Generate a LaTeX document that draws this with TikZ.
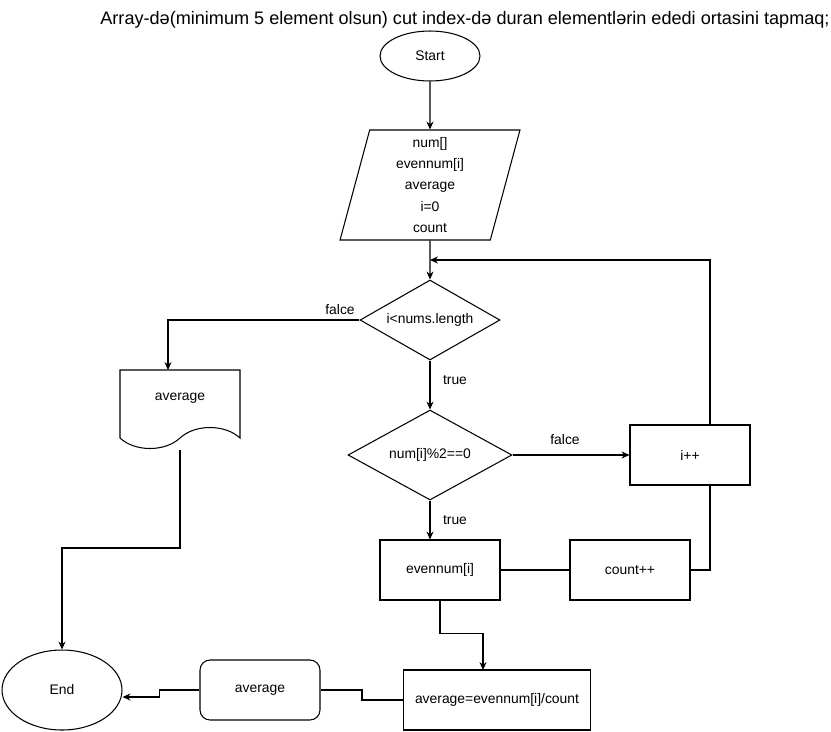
\documentclass[tikz,border=0pt]{standalone}
\usepackage{fontspec}
\setmainfont{Liberation Sans}
\usetikzlibrary{shapes.geometric,arrows.meta}
\tikzset{
	base/.style={draw,line width=0.6pt,font=\fontsize{7.9}{12.2}\selectfont,align=center,inner sep=1pt},
	terminal/.style={base,ellipse},
	io/.style={base,trapezium,trapezium left angle=80,trapezium right angle=100,trapezium stretches=true,minimum width=3.6cm,minimum height=2.2cm},
	decision/.style={base,diamond,inner sep=0pt,aspect=1.8},
	process/.style={base,rectangle,minimum width=2.4cm,minimum height=1.2cm},
	roundbox/.style={process,rounded corners=0.2cm},
	lbl/.style={font=\fontsize{7.9}{9}\selectfont}
}
\begin{document}
\begin{tikzpicture}[x=0.02cm,y=-0.02cm,line width=0.6pt,>={Stealth[length=4.5pt,width=4pt]}]
		\useasboundingbox (0,0) rectangle (831,731);
		\node[font=\fontsize{10.3}{12}\selectfont] (title) at (465,20) {Array-də(minimum 5 element olsun) cut index-də duran elementlərin ededi ortasini tapmaq;};
		\node[terminal,minimum width=2cm,minimum height=1cm] (start) at (430,56) {Start};
		\node[io] (input) at (430,185) {num[]\\evennum[i]\\average\\i=0\\count};
		\node[decision,minimum width=2.8cm,minimum height=1.6cm] (cond) at (430,320) {i\textless nums.length};
		\node[decision,minimum width=3.28cm,minimum height=1.8cm] (even) at (430,455) {num[i]\%2==0};
		\node[process] (inc) at (690,455) {i++};
		\node[process] (evennum) at (440,570) {evennum[i]};
		\node[process] (countpp) at (630,570) {count++};
		\node[process,minimum width=3.74cm] (calc) at (497,700) {average=evennum[i]/count};
		\node[roundbox] (avgout) at (260,690) {average};
		\node[terminal,minimum width=2.4cm,minimum height=1.6cm] (end) at (62,690) {End};
		% document shape
		\draw (120,370) -- (240,370) -- (240,438) .. controls (225,424) and (195,424) .. (180,438) .. controls (165,452) and (135,452) .. (120,438) -- cycle;
		\node[lbl] (doc) at (180,398) {average};
		\coordinate (docin) at (168,370);
		\coordinate (docout) at (180,450);
		\coordinate (loopin) at (430,260);
		\coordinate (calcin) at (483,670);
		\draw[->] (start) to (input);
		\draw[->] (input) to (cond);
		\draw[->] (cond.west) -| (docin);
		\node[lbl] at (340,310) {falce};
		\draw[->] (cond) to (even);
		\node[lbl] at (455,380) {true};
		\draw[->] (even.east) to (inc.west);
		\node[lbl] at (565,440) {falce};
		\draw[->] (even.south) to (even.south |- evennum.north);
		\node[lbl] at (455,520) {true};
		\draw (evennum) to (countpp);
		\draw (countpp.east) -| ([xshift=0.4cm]inc.south);
		\draw[->] ([xshift=0.4cm]inc.north) |- (loopin);
		\draw[->] (evennum.south) -- ++(0,33) -| (calcin);
		\draw (calc.west) -- ++(-41,0) |- (avgout.east);
		\draw[->] (avgout.west) -- ++(-40,0) |- ([yshift=-0.14cm]end.east);
		\draw[->] (docout) -- ++(0,98) -| (end.north);
\end{tikzpicture}
\end{document}
